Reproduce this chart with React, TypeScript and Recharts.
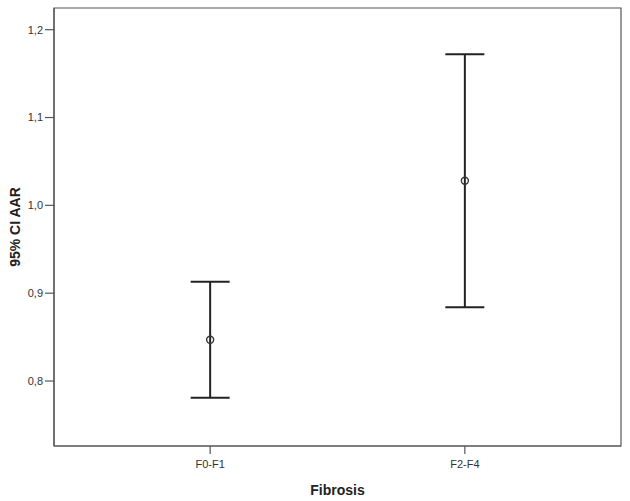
import React from "react";
import { ComposedChart, Scatter, ErrorBar, XAxis, YAxis, ReferenceArea } from "recharts";

const categories = ["F0-F1", "F2-F4"];
const means = [0.847, 1.028];
const lowers = [0.781, 0.884];
const uppers = [0.913, 1.172];
const yTicks = [0.8, 0.9, 1.0, 1.1, 1.2];

const data = categories.map((c, i) => ({
  x: i,
  name: c,
  mean: means[i],
  err: [means[i] - lowers[i], uppers[i] - means[i]],
}));

const X_DOMAIN: [number, number] = [-0.613, 1.613];
const Y_DOMAIN: [number, number] = [0.726, 1.2247];
const FONT = "'Liberation Sans', Arial, sans-serif";

const Dot = (props: any) => {
  const { cx, cy } = props;
  return <circle cx={cx} cy={cy} r={3.5} fill="none" stroke="#333" strokeWidth={1.4} />;
};

export default function App() {
  return (
    <div style={{ position: "absolute", left: 0, top: 0, background: "#fff" }}>
      <ComposedChart
        width={630}
        height={501}
        data={data}
        margin={{ top: 8, right: 9, bottom: 0, left: 0 }}
        style={{ fontFamily: FONT }}
      >
        <ReferenceArea
          x1={X_DOMAIN[0]}
          x2={X_DOMAIN[1]}
          y1={Y_DOMAIN[0]}
          y2={Y_DOMAIN[1]}
          fill="none"
          stroke="#555"
          strokeWidth={1.2}
        />
        <XAxis
          type="number"
          dataKey="x"
          domain={X_DOMAIN}
          ticks={[0, 1]}
          tickFormatter={(v: number) => categories[v]}
          allowDataOverflow
          height={55}
          tickSize={8}
          tickMargin={6}
          axisLine={{ stroke: "#555", strokeWidth: 1.2 }}
          tickLine={{ stroke: "#555", strokeWidth: 1.2 }}
          tick={{ fontSize: 11, fill: "#333", fontFamily: FONT }}
          label={{
            value: "Fibrosis",
            position: "insideBottom",
            offset: 6,
            style: { fontSize: 14, fontWeight: "bold", fill: "#222", fontFamily: FONT },
          }}
        />
        <YAxis
          type="number"
          domain={Y_DOMAIN}
          ticks={yTicks}
          allowDataOverflow
          width={54}
          tickSize={9}
          tickMargin={2}
          tickFormatter={(v: number) => v.toFixed(1).replace(".", ",")}
          axisLine={{ stroke: "#555", strokeWidth: 1.2 }}
          tickLine={{ stroke: "#555", strokeWidth: 1.2 }}
          tick={{ fontSize: 11, fill: "#333", fontFamily: FONT }}
          label={{
            value: "95% CI AAR",
            angle: -90,
            position: "insideLeft",
            offset: 15,
            style: { textAnchor: "middle", fontSize: 14, fontWeight: "bold", fill: "#222", fontFamily: FONT },
          }}
        />
        <Scatter dataKey="mean" shape={<Dot />} isAnimationActive={false}>
          <ErrorBar dataKey="err" direction="y" width={19.5} stroke="#222" strokeWidth={2} isAnimationActive={false} />
        </Scatter>
      </ComposedChart>
    </div>
  );
}
